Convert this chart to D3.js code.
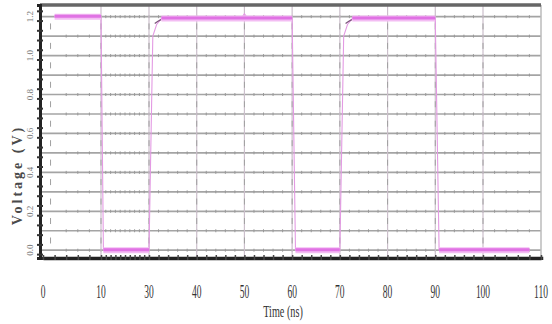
<!DOCTYPE html>
<html>
<head>
<meta charset="utf-8">
<script src="https://cdn.jsdelivr.net/npm/d3@7"></script>
<style>
  body { margin: 0; background: #fff; }
  svg { display: block; }
  text { font-family: "Liberation Serif", "DejaVu Serif", serif; }
</style>
</head>
<body>
<svg width="552" height="324"></svg>
<script>
// tick labels as printed on the figure (note: no "20")
var timeTicks = [0, 10, 30, 40, 50, 60, 70, 80, 90, 100, 110];
var voltTicks = [1.2, 1.0, 0.8, 0.6, 0.4, 0.2, 0.0];

// pulse waveform, time (ns) / voltage (V)
var waveT = [2, 10, 11, 30, 30.8, 31.6, 32.6, 49.3, 50, 50.7, 60, 60.7, 70, 70.8, 71.6, 72.6, 90, 90.8, 108];
var waveV = [1.2, 1.2, 0, 0, 1.1, 1.16, 1.19, 1.19, 1.215, 1.19, 1.19, 0, 0, 1.1, 1.16, 1.19, 1.19, 0, 0];

// flat (settled) parts of the pulse, drawn thicker
var levelStart = [2, 11, 32.6, 60.7, 72.6, 90.8];
var levelEnd = [10, 30, 60, 70, 90, 108];
var levelV = [1.2, 0, 1.19, 0, 1.19, 0];

var svg = d3.select("svg");

var margin = { top: 5, right: 11, bottom: 66, left: 40 },
  width = 552 - margin.left - margin.right,
  height = 324 - margin.top - margin.bottom;

// axis is not evenly spaced in the source figure
var x = d3.scaleLinear()
  .domain([0, 10, 30, 100, 110])
  .range([3, 61, 109, 443, 501]);

var y = d3.scaleLinear()
  .domain([-0.04, 1.26])
  .range([height, 0]);

var g = svg.append("g")
  .attr("transform", "translate(" + margin.left + "," + margin.top + ")");

// horizontal grid every 0.1 V
var hGrid = d3.range(0, 13).map(function (i) { return i / 10; });
g.append("g").selectAll("line")
  .data(hGrid)
  .enter().append("line")
  .attr("x1", 0).attr("x2", width)
  .attr("y1", function (d) { return y(d); })
  .attr("y2", function (d) { return y(d); })
  .attr("stroke", "#a4a4a4")
  .attr("stroke-width", 1.7);

// small marks along the horizontal grid
var minorT = d3.range(4, 110, 2);
hGrid.forEach(function (v) {
  g.append("g").selectAll("line")
    .data(minorT)
    .enter().append("line")
    .attr("x1", function (d) { return x(d); })
    .attr("x2", function (d) { return x(d); })
    .attr("y1", y(v) - 1.5)
    .attr("y2", y(v) + 1.5)
    .attr("stroke", "#999")
    .attr("stroke-width", 1);
});

// vertical grid
g.append("g").selectAll("line")
  .data(timeTicks.slice(1, -1))
  .enter().append("line")
  .attr("x1", function (d) { return x(d); })
  .attr("x2", function (d) { return x(d); })
  .attr("y1", 0).attr("y2", height)
  .attr("stroke", "#cbbfcb")
  .attr("stroke-width", 1.2);

// short marks between grid rows
var midV = d3.range(0.05, 1.2, 0.1);
timeTicks.slice(1, -1).concat([1.3]).forEach(function (t) {
  g.append("g").selectAll("line")
    .data(midV)
    .enter().append("line")
    .attr("x1", x(t)).attr("x2", x(t))
    .attr("y1", function (d) { return y(d) - 3; })
    .attr("y2", function (d) { return y(d) + 3; })
    .attr("stroke", "#a0a0a0")
    .attr("stroke-width", 1);
});

// right border
g.append("line")
  .attr("x1", width).attr("x2", width)
  .attr("y1", 0).attr("y2", height)
  .attr("stroke", "#bbb")
  .attr("stroke-width", 1.5);

// top border
g.append("line")
  .attr("x1", 0).attr("x2", width)
  .attr("y1", 0).attr("y2", 0)
  .attr("stroke", "#666")
  .attr("stroke-width", 3.5);

// waveform (thin transitions)
var wave = waveT.map(function (t, i) { return [t, waveV[i]]; });
var line = d3.line()
  .x(function (d) { return x(d[0]); })
  .y(function (d) { return y(d[1]); });

g.append("path")
  .datum(wave)
  .attr("fill", "none")
  .attr("stroke", "#e39ae3")
  .attr("stroke-width", 1.1)
  .attr("d", line);

// settled levels, thick
var levels = levelStart.map(function (s, i) { return { s: s, e: levelEnd[i], v: levelV[i] }; });
g.append("g").selectAll("line")
  .data(levels)
  .enter().append("line")
  .attr("x1", function (d) { return x(d.s); })
  .attr("x2", function (d) { return x(d.e); })
  .attr("y1", function (d) { return y(d.v); })
  .attr("y2", function (d) { return y(d.v); })
  .attr("stroke", "#f3bdf3")
  .attr("stroke-width", 6);
g.append("g").selectAll("line")
  .data(levels)
  .enter().append("line")
  .attr("x1", function (d) { return x(d.s); })
  .attr("x2", function (d) { return x(d.e); })
  .attr("y1", function (d) { return y(d.v) - 0.5; })
  .attr("y2", function (d) { return y(d.v) - 0.5; })
  .attr("stroke", "#e072e4")
  .attr("stroke-width", 3);

// small dark kinks at the start of the rising edges
g.append("g").selectAll("path")
  .data([30, 70])
  .enter().append("path")
  .attr("fill", "none")
  .attr("stroke", "#7a557a")
  .attr("stroke-width", 1.3)
  .attr("d", function (t) {
    return line([[t + 1.2, 1.165], [t + 1.8, 1.175], [t + 2.5, 1.185]]);
  });

// left axis
g.append("g")
  .attr("class", "axis axis--y")
  .call(d3.axisLeft(y).tickValues(d3.range(-0.02, 1.26, 0.05)).tickSize(3).tickFormat(""))
  .call(function (a) {
    a.select(".domain").attr("stroke", "#222").attr("stroke-width", 3);
    a.selectAll(".tick line").attr("stroke", "#333").attr("stroke-width", 2)
      .attr("x1", 3).attr("x2", -3);
  });

// bottom axis
g.append("g")
  .attr("class", "axis axis--x")
  .attr("transform", "translate(0," + height + ")")
  .call(d3.axisBottom(x).tickValues(d3.range(0, 111, 2)).tickSize(2).tickFormat(""))
  .call(function (a) {
    a.select(".domain").attr("stroke", "#222").attr("stroke-width", 3.5);
    a.selectAll(".tick line").attr("stroke", "#444").attr("stroke-width", 1.5)
      .attr("y1", -3).attr("y2", 2);
  });

// x tick labels (tall, narrow serif)
g.append("g").selectAll("text")
  .data(timeTicks)
  .enter().append("text")
  .attr("transform", function (d) { return "translate(" + x(d) + "," + (height + 40) + ") scale(0.5,1)"; })
  .attr("text-anchor", "middle")
  .attr("font-size", 19)
  .attr("fill", "#333")
  .text(function (d) { return d; });

// y tick labels, rotated
g.append("g").selectAll("text")
  .data(voltTicks)
  .enter().append("text")
  .attr("transform", function (d) { return "translate(-7," + y(d) + ") rotate(-90)"; })
  .attr("text-anchor", "middle")
  .attr("font-size", 9)
  .attr("fill", "#777")
  .text(function (d) { return d.toFixed(1); });

// axis titles
svg.append("text")
  .attr("transform", "translate(283,317) scale(0.6,1)")
  .attr("text-anchor", "middle")
  .attr("font-size", 17)
  .attr("fill", "#333")
  .text("Time (ns)");

svg.append("text")
  .attr("transform", "translate(22,175) rotate(-90)")
  .attr("text-anchor", "middle")
  .attr("font-size", 14)
  .attr("font-weight", "bold")
  .attr("letter-spacing", 3)
  .attr("fill", "#4a4a4a")
  .text("Voltage (V)");
</script>
</body>
</html>
